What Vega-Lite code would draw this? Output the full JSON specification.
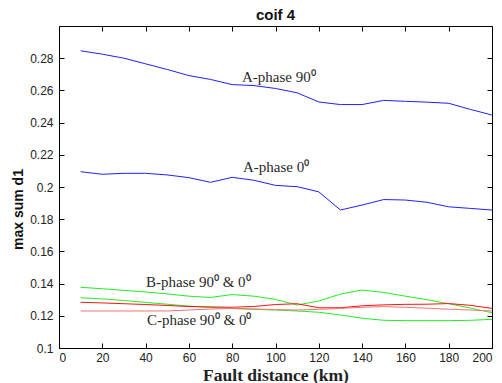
{
  "$schema": "https://vega.github.io/schema/vega-lite/v6.json",
  "width": 433,
  "height": 322,
  "autosize": {"type": "none"},
  "padding": {"left": 59, "top": 26, "right": 10, "bottom": 35},
  "background": "white",
  "config": {
    "view": {"stroke": "black", "strokeWidth": 1},
    "axis": {"grid": false, "domain": false, "tickColor": "black", "tickSize": -5, "labelFont": "Liberation Sans", "labelFontSize": 12, "labelColor": "#222", "labelOverlap": false}
  },
  "title": {"text": "coif 4", "font": "Liberation Sans", "fontSize": 15, "fontWeight": "bold", "color": "#111", "offset": 3},
  "datasets": {
    "lines": [
      {"s": "A90", "km": 10, "v": 0.2846}, {"s": "A90", "km": 20, "v": 0.2825}, {"s": "A90", "km": 30, "v": 0.2800}, {"s": "A90", "km": 40, "v": 0.2765},
      {"s": "A90", "km": 50, "v": 0.2730}, {"s": "A90", "km": 60, "v": 0.2692}, {"s": "A90", "km": 70, "v": 0.2668}, {"s": "A90", "km": 80, "v": 0.2636},
      {"s": "A90", "km": 90, "v": 0.2630}, {"s": "A90", "km": 100, "v": 0.2612}, {"s": "A90", "km": 110, "v": 0.2585}, {"s": "A90", "km": 120, "v": 0.2528},
      {"s": "A90", "km": 130, "v": 0.2512}, {"s": "A90", "km": 140, "v": 0.2512}, {"s": "A90", "km": 150, "v": 0.2538}, {"s": "A90", "km": 160, "v": 0.2532},
      {"s": "A90", "km": 170, "v": 0.2527}, {"s": "A90", "km": 180, "v": 0.2520}, {"s": "A90", "km": 190, "v": 0.2482}, {"s": "A90", "km": 200, "v": 0.2447},
      {"s": "A0", "km": 10, "v": 0.2095}, {"s": "A0", "km": 20, "v": 0.2079}, {"s": "A0", "km": 30, "v": 0.2085}, {"s": "A0", "km": 40, "v": 0.2085},
      {"s": "A0", "km": 50, "v": 0.2075}, {"s": "A0", "km": 60, "v": 0.2058}, {"s": "A0", "km": 70, "v": 0.2029}, {"s": "A0", "km": 80, "v": 0.2060},
      {"s": "A0", "km": 90, "v": 0.2042}, {"s": "A0", "km": 100, "v": 0.2010}, {"s": "A0", "km": 110, "v": 0.2002}, {"s": "A0", "km": 120, "v": 0.1970},
      {"s": "A0", "km": 130, "v": 0.1857}, {"s": "A0", "km": 140, "v": 0.1888}, {"s": "A0", "km": 150, "v": 0.1922}, {"s": "A0", "km": 160, "v": 0.1919},
      {"s": "A0", "km": 170, "v": 0.1905}, {"s": "A0", "km": 180, "v": 0.1877}, {"s": "A0", "km": 190, "v": 0.1867}, {"s": "A0", "km": 200, "v": 0.1857},
      {"s": "B90", "km": 10, "v": 0.1377}, {"s": "B90", "km": 20, "v": 0.1368}, {"s": "B90", "km": 30, "v": 0.1358}, {"s": "B90", "km": 40, "v": 0.1348},
      {"s": "B90", "km": 50, "v": 0.1336}, {"s": "B90", "km": 60, "v": 0.1322}, {"s": "B90", "km": 70, "v": 0.1314}, {"s": "B90", "km": 80, "v": 0.1332},
      {"s": "B90", "km": 90, "v": 0.1322}, {"s": "B90", "km": 100, "v": 0.1302}, {"s": "B90", "km": 110, "v": 0.1267}, {"s": "B90", "km": 120, "v": 0.1292},
      {"s": "B90", "km": 130, "v": 0.1335}, {"s": "B90", "km": 140, "v": 0.1360}, {"s": "B90", "km": 150, "v": 0.1345}, {"s": "B90", "km": 160, "v": 0.1322},
      {"s": "B90", "km": 170, "v": 0.1300}, {"s": "B90", "km": 180, "v": 0.1275}, {"s": "B90", "km": 190, "v": 0.1248}, {"s": "B90", "km": 200, "v": 0.1219},
      {"s": "B0", "km": 10, "v": 0.1312}, {"s": "B0", "km": 20, "v": 0.1305}, {"s": "B0", "km": 30, "v": 0.1295}, {"s": "B0", "km": 40, "v": 0.1283},
      {"s": "B0", "km": 50, "v": 0.1272}, {"s": "B0", "km": 60, "v": 0.1260}, {"s": "B0", "km": 70, "v": 0.1252}, {"s": "B0", "km": 80, "v": 0.1245},
      {"s": "B0", "km": 90, "v": 0.1240}, {"s": "B0", "km": 100, "v": 0.1236}, {"s": "B0", "km": 110, "v": 0.1230}, {"s": "B0", "km": 120, "v": 0.1222},
      {"s": "B0", "km": 130, "v": 0.1205}, {"s": "B0", "km": 140, "v": 0.1185}, {"s": "B0", "km": 150, "v": 0.1172}, {"s": "B0", "km": 160, "v": 0.1170},
      {"s": "B0", "km": 170, "v": 0.1170}, {"s": "B0", "km": 180, "v": 0.1170}, {"s": "B0", "km": 190, "v": 0.1172}, {"s": "B0", "km": 200, "v": 0.1178},
      {"s": "C90", "km": 10, "v": 0.1284}, {"s": "C90", "km": 20, "v": 0.1280}, {"s": "C90", "km": 30, "v": 0.1275}, {"s": "C90", "km": 40, "v": 0.1270},
      {"s": "C90", "km": 50, "v": 0.1264}, {"s": "C90", "km": 60, "v": 0.1258}, {"s": "C90", "km": 70, "v": 0.1255}, {"s": "C90", "km": 80, "v": 0.1253},
      {"s": "C90", "km": 90, "v": 0.1258}, {"s": "C90", "km": 100, "v": 0.1270}, {"s": "C90", "km": 110, "v": 0.1275}, {"s": "C90", "km": 120, "v": 0.1250},
      {"s": "C90", "km": 130, "v": 0.1250}, {"s": "C90", "km": 140, "v": 0.1262}, {"s": "C90", "km": 150, "v": 0.1268}, {"s": "C90", "km": 160, "v": 0.1271},
      {"s": "C90", "km": 170, "v": 0.1272}, {"s": "C90", "km": 180, "v": 0.1276}, {"s": "C90", "km": 190, "v": 0.1265}, {"s": "C90", "km": 200, "v": 0.1246},
      {"s": "C0", "km": 10, "v": 0.1230}, {"s": "C0", "km": 20, "v": 0.1230}, {"s": "C0", "km": 30, "v": 0.1230}, {"s": "C0", "km": 40, "v": 0.1230},
      {"s": "C0", "km": 50, "v": 0.1230}, {"s": "C0", "km": 60, "v": 0.1236}, {"s": "C0", "km": 70, "v": 0.1242}, {"s": "C0", "km": 80, "v": 0.1246},
      {"s": "C0", "km": 90, "v": 0.1243}, {"s": "C0", "km": 100, "v": 0.1238}, {"s": "C0", "km": 110, "v": 0.1236}, {"s": "C0", "km": 120, "v": 0.1240},
      {"s": "C0", "km": 130, "v": 0.1246}, {"s": "C0", "km": 140, "v": 0.1253}, {"s": "C0", "km": 150, "v": 0.1257}, {"s": "C0", "km": 160, "v": 0.1253},
      {"s": "C0", "km": 170, "v": 0.1247}, {"s": "C0", "km": 180, "v": 0.1241}, {"s": "C0", "km": 190, "v": 0.1236}, {"s": "C0", "km": 200, "v": 0.1230}
    ],
    "labels": [
      {"km": 84.5, "v": 0.2655, "t": "A-phase 90⁰"},
      {"km": 85, "v": 0.2095, "t": "A-phase 0⁰"},
      {"km": 40.2, "v": 0.1380, "t": "B-phase 90⁰ & 0⁰"},
      {"km": 40.6, "v": 0.1140, "t": "C-phase 90⁰ & 0⁰"}
    ]
  },
  "layer": [
    {
      "data": {"name": "lines"},
      "mark": {"type": "line", "strokeWidth": 1, "clip": true},
      "encoding": {
        "x": {"field": "km", "type": "quantitative", "scale": {"domain": [0, 200], "nice": false},
              "axis": {"orient": "bottom", "values": [0, 20, 40, 60, 80, 100, 120, 140, 160, 180, 200], "format": "d", "labelPadding": 9,
                       "title": "Fault distance (km)", "titleFont": "Liberation Serif", "titleFontSize": 17.5, "titleFontWeight": "bold", "titleColor": "#222",
                       "titleBaseline": "alphabetic", "titleY": 32}},
        "y": {"field": "v", "type": "quantitative", "scale": {"domain": [0.1, 0.3], "nice": false, "zero": false},
              "axis": {"orient": "left", "values": [0.1, 0.12, 0.14, 0.16, 0.18, 0.2, 0.22, 0.24, 0.26, 0.28], "format": "~g", "labelPadding": 11,
                       "title": "max sum d1", "titleFont": "Liberation Sans", "titleFontSize": 14, "titleFontWeight": "bold", "titleColor": "#111",
                       "titleBaseline": "alphabetic", "titleX": -37, "titleY": 183}},
        "color": {"field": "s", "type": "nominal",
                  "scale": {"domain": ["A90", "A0", "B90", "B0", "C90", "C0"], "range": ["#2020ff", "#2020ff", "#22ee22", "#22ee22", "#ff1010", "#ff7070"]},
                  "legend": null},
        "detail": {"field": "s"}
      }
    },
    {
      "data": {"name": "labels"},
      "mark": {"type": "text", "align": "left", "baseline": "alphabetic", "font": "Liberation Serif", "fontSize": 15, "color": "#2a2a2a"},
      "encoding": {
        "x": {"field": "km", "type": "quantitative", "axis": {"orient": "top", "labels": false, "title": null, "values": [0, 20, 40, 60, 80, 100, 120, 140, 160, 180, 200]}},
        "y": {"field": "v", "type": "quantitative", "axis": {"orient": "right", "labels": false, "title": null, "values": [0.1, 0.12, 0.14, 0.16, 0.18, 0.2, 0.22, 0.24, 0.26, 0.28]}},
        "text": {"field": "t"}
      }
    }
  ],
  "resolve": {"axis": {"x": "independent", "y": "independent"}}
}
